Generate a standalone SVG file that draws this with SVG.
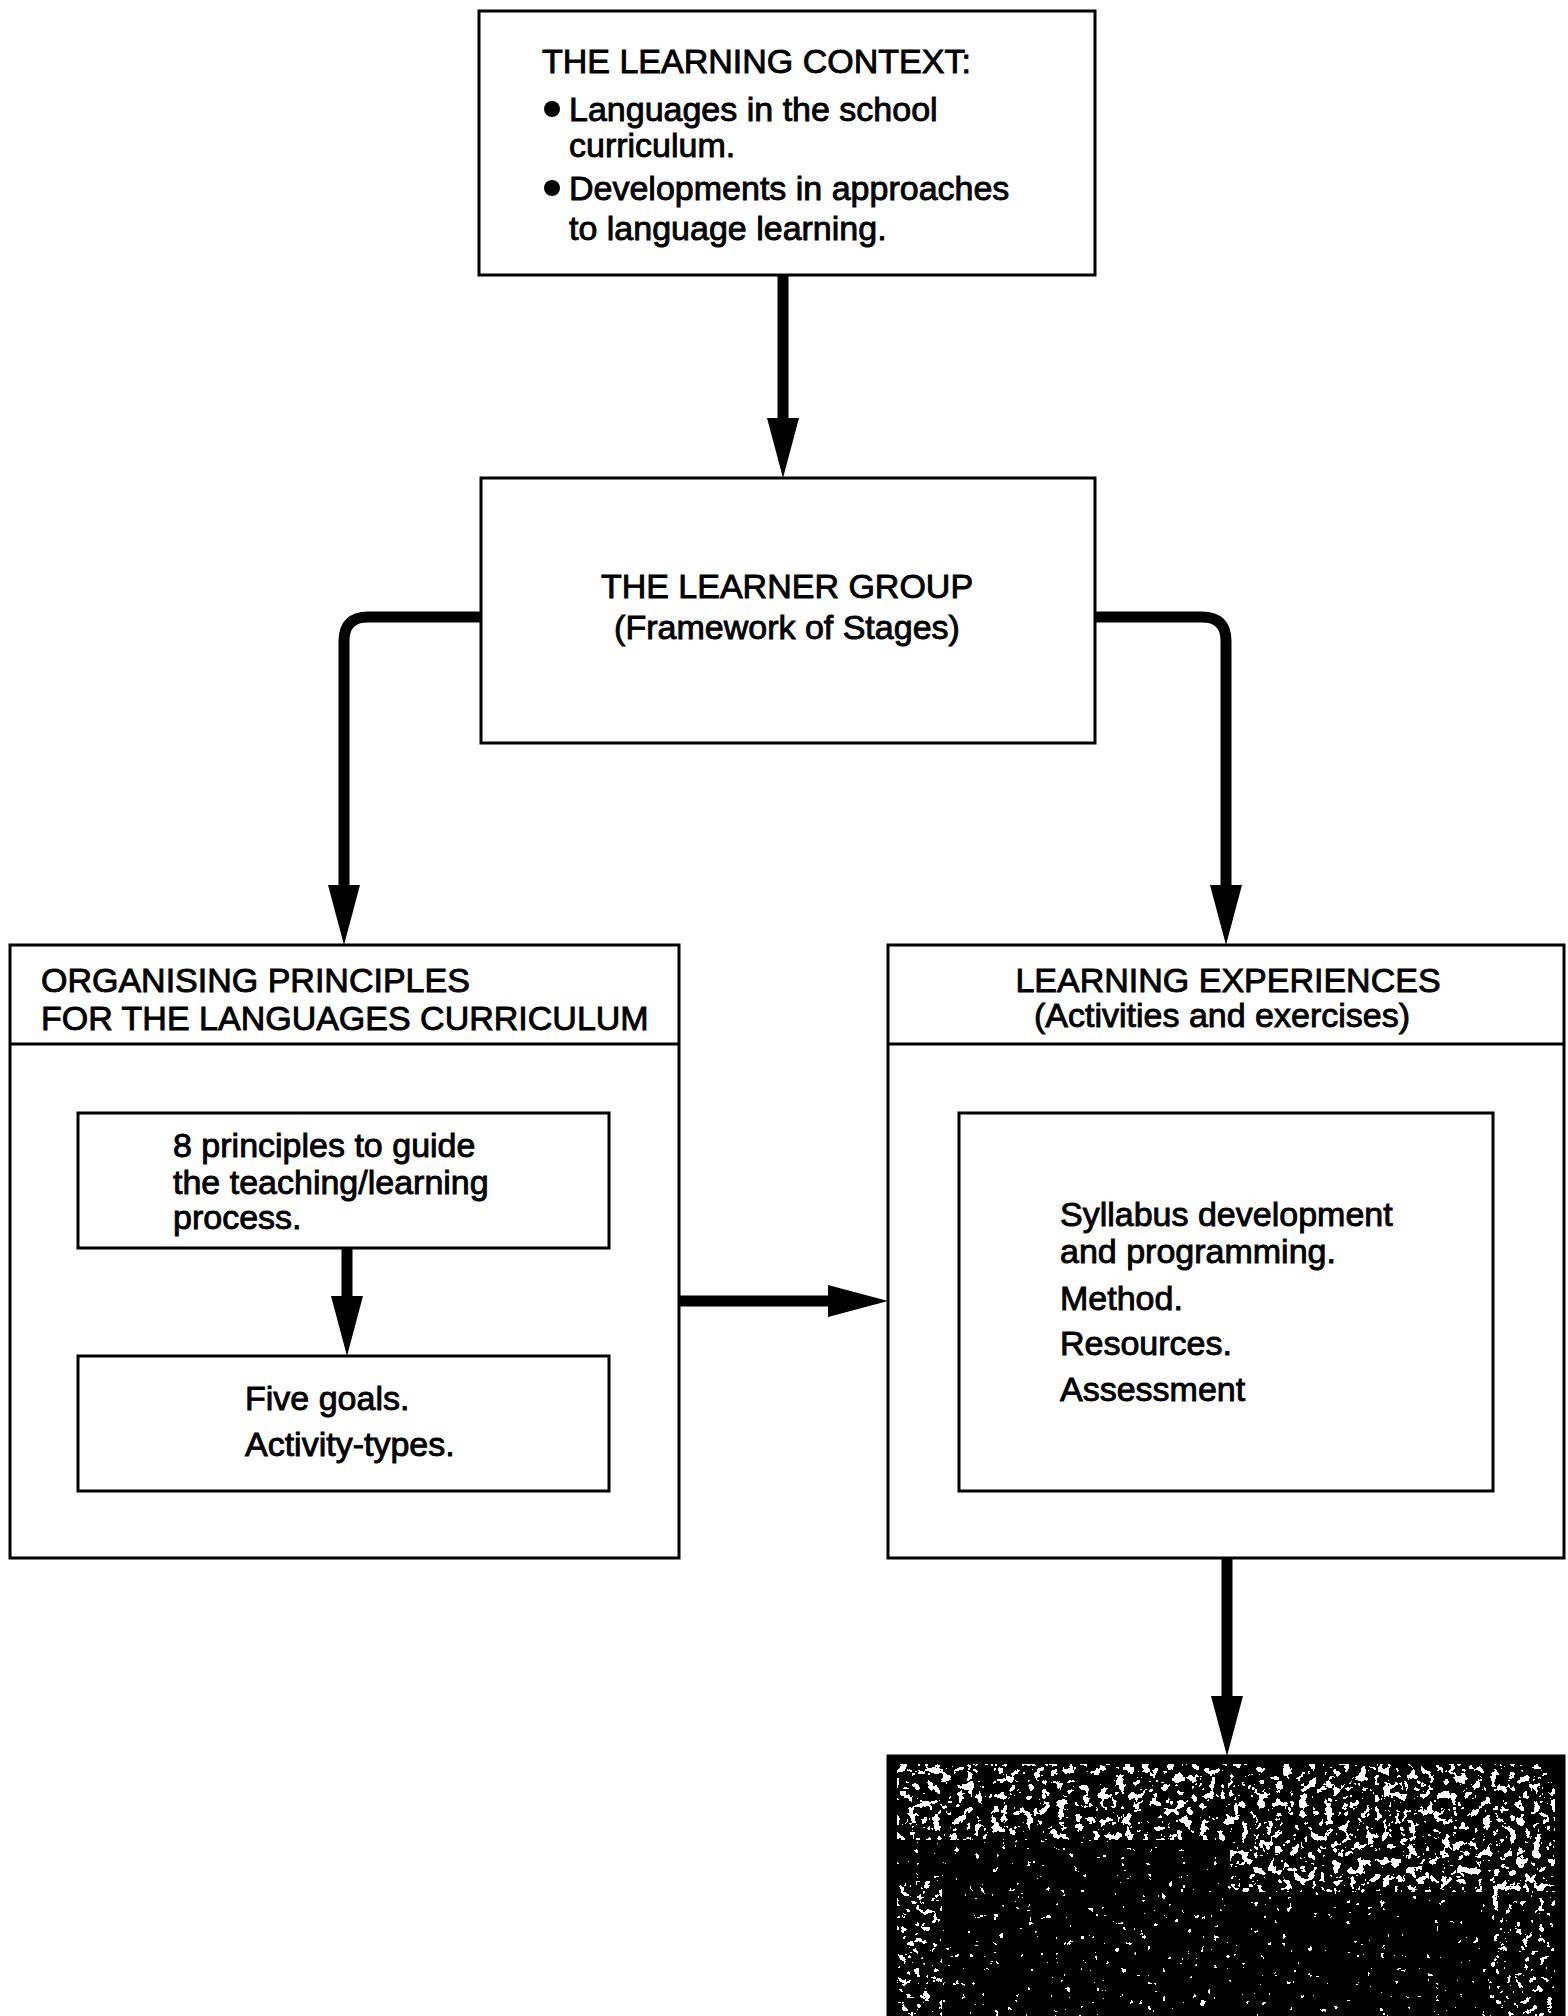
<svg xmlns="http://www.w3.org/2000/svg" width="1568" height="2016" viewBox="0 0 1568 2016">
<style>
  .box { fill: #fff; stroke: #000; stroke-width: 3; }
  .t { font-family: "Liberation Sans", Arial, sans-serif; font-size: 34px; fill: #000; stroke: #000; stroke-width: 0.9; }
  .c { text-anchor: middle; }
  .conn { fill: none; stroke: #000; stroke-width: 11; stroke-linejoin: round; }
</style>
<defs>
  <marker id="ah" viewBox="0 0 60 32" refX="0" refY="16" markerWidth="60" markerHeight="32" markerUnits="userSpaceOnUse" orient="auto">
    <path d="M0,0 L60,16 L0,32 Z" fill="#000"/>
  </marker>
  <filter id="gDense" x="0" y="0" width="1" height="1">
    <feTurbulence type="fractalNoise" baseFrequency="0.12" numOctaves="3" seed="4"/>
    <feColorMatrix type="matrix" values="0 0 0 0 1  0 0 0 0 1  0 0 0 0 1  1 0 0 0 0"/>
    <feComponentTransfer><feFuncA type="discrete" tableValues="0 0 0 0 0 0 1 1 1 1"/></feComponentTransfer>
  </filter>
  <filter id="gMed" x="0" y="0" width="1" height="1">
    <feTurbulence type="fractalNoise" baseFrequency="0.13" numOctaves="3" seed="9"/>
    <feColorMatrix type="matrix" values="0 0 0 0 1  0 0 0 0 1  0 0 0 0 1  1 0 0 0 0"/>
    <feComponentTransfer><feFuncA type="discrete" tableValues="0 0 0 0 0 0 0 0 0 0 0 0 0 1 1 1 1 1 1 1"/></feComponentTransfer>
  </filter>
  <filter id="gSparse" x="0" y="0" width="1" height="1">
    <feTurbulence type="fractalNoise" baseFrequency="0.15" numOctaves="3" seed="17"/>
    <feColorMatrix type="matrix" values="0 0 0 0 1  0 0 0 0 1  0 0 0 0 1  1 0 0 0 0"/>
    <feComponentTransfer><feFuncA type="discrete" tableValues="0 0 0 0 0 0 0 0 0 0 0 0 0 0 0 1 1 1 1 1"/></feComponentTransfer>
  </filter>
</defs>

<g id="context">
  <rect class="box" x="479" y="11" width="616" height="264"/>
  <text class="t" x="542" y="73">THE LEARNING CONTEXT:</text>
  <circle cx="552" cy="109" r="8"/>
  <text class="t" x="569" y="121">Languages in the school</text>
  <text class="t" x="569" y="157">curriculum.</text>
  <circle cx="552" cy="188" r="8"/>
  <text class="t" x="569" y="200">Developments in approaches</text>
  <text class="t" x="569" y="240">to language learning.</text>
</g>

<g id="learner">
  <rect class="box" x="481" y="478" width="614" height="265"/>
  <text class="t c" x="787" y="598">THE LEARNER GROUP</text>
  <text class="t c" x="787" y="639">(Framework of Stages)</text>
</g>

<g id="organising">
  <rect class="box" x="10" y="945" width="669" height="613"/>
  <line x1="10" y1="1044" x2="679" y2="1044" stroke="#000" stroke-width="3"/>
  <text class="t" x="41" y="992">ORGANISING PRINCIPLES</text>
  <text class="t" x="41" y="1030">FOR THE LANGUAGES CURRICULUM</text>
</g>

<g id="principles">
  <rect class="box" x="78" y="1113" width="531" height="135"/>
  <text class="t" x="173" y="1157">8 principles to guide</text>
  <text class="t" x="173" y="1194">the teaching/learning</text>
  <text class="t" x="173" y="1229">process.</text>
</g>

<g id="goals">
  <rect class="box" x="78" y="1356" width="531" height="135"/>
  <text class="t" x="245" y="1410">Five goals.</text>
  <text class="t" x="245" y="1456">Activity-types.</text>
</g>

<g id="experiences">
  <rect class="box" x="888" y="945" width="676" height="613"/>
  <line x1="888" y1="1044" x2="1564" y2="1044" stroke="#000" stroke-width="3"/>
  <text class="t c" x="1228" y="992">LEARNING EXPERIENCES</text>
  <text class="t c" x="1222" y="1027">(Activities and exercises)</text>
</g>

<g id="syllabus">
  <rect class="box" x="959" y="1113" width="534" height="378"/>
  <text class="t" x="1060" y="1226">Syllabus development</text>
  <text class="t" x="1060" y="1263">and programming.</text>
  <text class="t" x="1060" y="1310">Method.</text>
  <text class="t" x="1060" y="1355">Resources.</text>
  <text class="t" x="1060" y="1401">Assessment</text>
</g>

<g id="evaluation">
  <rect x="888" y="1756" width="676" height="262" fill="#000" stroke="#000" stroke-width="3"/>
  <rect x="897" y="1764" width="658" height="252" fill="#000" filter="url(#gSparse)"/>
  <rect x="897" y="1764" width="658" height="76" fill="#000" filter="url(#gDense)"/>
  <rect x="1230" y="1836" width="325" height="56" fill="#000" filter="url(#gDense)"/>
  <rect x="897" y="1880" width="45" height="136" fill="#000" filter="url(#gMed)"/>
  <rect x="1490" y="1880" width="65" height="136" fill="#000" filter="url(#gMed)"/>
</g>

<g id="connectors">
  <path class="conn" d="M783,275 V418" marker-end="url(#ah)"/>
  <path class="conn" d="M481,617 H368 Q344,617 344,641 V885" marker-end="url(#ah)"/>
  <path class="conn" d="M1095,617 H1202 Q1226,617 1226,641 V885" marker-end="url(#ah)"/>
  <path class="conn" d="M347,1248 V1296" marker-end="url(#ah)"/>
  <path class="conn" d="M679,1301 H828" marker-end="url(#ah)"/>
  <path class="conn" d="M1227,1558 V1696" marker-end="url(#ah)"/>
</g>
</svg>
